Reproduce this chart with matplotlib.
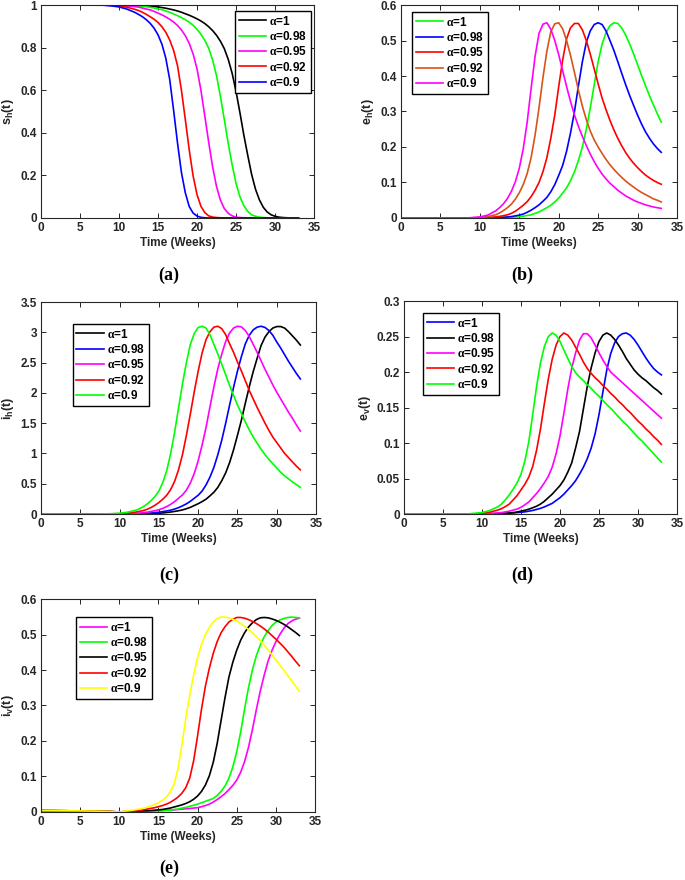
import matplotlib
matplotlib.use("Agg")
import matplotlib.pyplot as plt
from matplotlib.ticker import FuncFormatter

plt.rcParams["font.family"] = ["Liberation Sans", "DejaVu Sans"]
plt.rcParams["font.weight"] = "bold"
plt.rcParams["axes.labelweight"] = "bold"
plt.rcParams["mathtext.fontset"] = "custom"
plt.rcParams["mathtext.rm"] = "Liberation Serif"
plt.rcParams["mathtext.it"] = "Liberation Serif"
plt.rcParams["mathtext.bf"] = "Liberation Sans:bold"

# time grid (weeks)
t = [0, 5, 8, 9, 10, 11,
     12, 12.5, 13, 13.5, 14, 14.5, 15, 15.5, 16, 16.5, 17, 17.5,
     18, 18.5, 19, 19.5, 20, 20.5, 21, 21.5, 22, 22.5, 23, 23.5,
     24, 24.5, 25, 25.5, 26, 26.5, 27, 27.5, 28, 28.5, 29, 29.5,
     30, 30.5, 31, 31.5, 32, 32.5, 33]

alpha_labels = [r"$\alpha$=1", r"$\alpha$=0.98", r"$\alpha$=0.95",
                r"$\alpha$=0.92", r"$\alpha$=0.9"]

# (a) s_h(t)
sh_1 = [1, 1, 1, 1, 1, 1,
        .999, .998, .997, .996, .995, .993, .991, .988, .985, .981, .977, .972,
        .966, .959, .952, .944, .935, .925, .913, .898, .88, .858, .83, .795,
        .745, .68, .595, .495, .39, .295, .205, .135, .085, .05, .028, .015,
        .008, .004, .002, .001, 0, 0, 0]
sh_98 = [1, 1, 1, 1, 1, .999,
         .997, .996, .994, .992, .989, .986, .982, .978, .972, .966, .958, .95,
         .941, .931, .919, .905, .886, .863, .834, .797, .742, .668, .571, .462,
         .35, .25, .163, .10, .058, .031, .015, .008, .004, .002, .001, 0,
         0, 0, 0, 0, 0, 0, 0]
sh_95 = [1, 1, 1, 1, .999, .996,
         .993, .99, .986, .981, .977, .97, .962, .954, .944, .933, .92, .904,
         .883, .856, .82, .77, .70, .60, .478, .355, .24, .148, .084, .044,
         .022, .01, .004, .002, .001, 0, 0, 0, 0, 0, 0, 0,
         0, 0, 0, 0, 0, 0, 0]
sh_92 = [1, 1, 1, .998, .995, .99,
         .98, .974, .966, .956, .945, .933, .918, .898, .872, .836, .787, .715,
         .60, .462, .32, .197, .11, .055, .025, .01, .004, .002, .001, 0,
         0, 0, 0, 0, 0, 0, 0, 0, 0, 0, 0, 0,
         0, 0, 0, 0, 0, 0, 0]
sh_90 = [1, 1, .999, .996, .991, .981,
         .966, .956, .945, .931, .914, .891, .86, .816, .75, .65, .505, .352,
         .214, .118, .054, .023, .009, .003, .001, 0, 0, 0, 0, 0,
         0, 0, 0, 0, 0, 0, 0, 0, 0, 0, 0, 0,
         0, 0, 0, 0, 0, 0, 0]

# (b) e_h(t)
eh_1 = [0, 0, 0, 0, 0, 0,
        0, .0005, .001, .0012, .002, .0027, .0035, .005, .007, .009, .013, .017,
        .023, .029, .036, .045, .056, .07, .085, .105, .13, .162, .2, .25,
        .31, .375, .44, .49, .522, .542, .55, .548, .535, .515, .49, .462,
        .432, .402, .373, .345, .319, .294, .27]
eh_98 = [0, 0, 0, 0, 0, .0005,
         .001, .0013, .002, .003, .004, .006, .008, .011, .016, .022, .029, .037,
         .047, .058, .074, .094, .12, .148, .188, .24, .30, .372, .44, .495,
         .527, .545, .55, .545, .527, .5, .472, .44, .407, .375, .345, .317,
         .29, .265, .243, .225, .209, .196, .185]
eh_95 = [0, 0, 0, 0, .0005, .001,
         .003, .0045, .0065, .009, .013, .019, .027, .036, .046, .06, .078, .1,
         .13, .17, .225, .29, .37, .445, .505, .536, .548, .548, .53, .5,
         .462, .42, .378, .338, .305, .275, .248, .224, .203, .184, .168, .154,
         .142, .131, .121, .113, .106, .1, .095]
eh_92 = [0, 0, 0, .0005, .0015, .004,
         .009, .014, .021, .029, .039, .053, .071, .094, .125, .17, .233, .31,
         .395, .47, .525, .547, .55, .533, .50, .458, .41, .36, .315, .277,
         .245, .22, .2, .182, .165, .15, .137, .125, .114, .104, .095, .087,
         .079, .072, .066, .06, .054, .05, .045]
eh_90 = [0, 0, 0, .001, .003, .008,
         .02, .029, .04, .055, .075, .102, .14, .195, .27, .365, .455, .52,
         .546, .55, .532, .5, .46, .415, .37, .328, .29, .258, .23, .204,
         .18, .159, .14, .124, .11, .098, .088, .078, .07, .062, .056, .05,
         .045, .041, .037, .034, .031, .029, .027]

# (c) i_h(t)
ih_1 = [0, 0, 0, 0, 0, .001,
        .002, .003, .004, .005, .007, .01, .013, .018, .025, .033, .043, .054,
        .068, .087, .11, .14, .17, .205, .245, .3, .36, .44, .55, .68,
        .85, 1.06, 1.3, 1.55, 1.83, 2.1, 2.35, 2.57, 2.78, 2.92, 3.01, 3.07,
        3.095, 3.095, 3.07, 3.01, 2.94, 2.87, 2.79]
ih_98 = [0, 0, 0, 0, .001, .002,
         .004, .006, .008, .011, .016, .023, .03, .04, .051, .063, .082, .105,
         .135, .168, .21, .26, .31, .38, .48, .61, .77, .98, 1.22, 1.5,
         1.8, 2.09, 2.36, 2.6, 2.81, 2.95, 3.04, 3.085, 3.1, 3.08, 3.03, 2.95,
         2.84, 2.74, 2.63, 2.52, 2.42, 2.32, 2.23]
ih_95 = [0, 0, 0, .001, .002, .005,
         .01, .014, .022, .03, .042, .055, .071, .094, .123, .16, .205, .26,
         .315, .395, .51, .67, .88, 1.14, 1.43, 1.77, 2.1, 2.4, 2.64, 2.85,
         2.99, 3.07, 3.1, 3.09, 3.03, 2.93, 2.8, 2.67, 2.53, 2.39, 2.26, 2.13,
         2.01, 1.9, 1.79, 1.68, 1.58, 1.47, 1.37]
ih_92 = [0, 0, .001, .003, .006, .013,
         .03, .043, .056, .078, .107, .144, .19, .245, .31, .405, .54, .73,
         .98, 1.3, 1.65, 2.02, 2.36, 2.66, 2.88, 3.01, 3.085, 3.1, 3.06, 2.96,
         2.81, 2.67, 2.51, 2.36, 2.2, 2.04, 1.9, 1.76, 1.63, 1.5, 1.38, 1.27,
         1.18, 1.09, 1.0, .93, .86, .79, .73]
ih_90 = [0, 0, .002, .005, .012, .03,
         .06, .085, .12, .165, .22, .29, .38, .52, .72, 1.0, 1.35, 1.75,
         2.15, 2.5, 2.8, 2.98, 3.08, 3.1, 3.07, 2.96, 2.8, 2.64, 2.47, 2.3,
         2.12, 1.96, 1.8, 1.66, 1.52, 1.39, 1.27, 1.17, 1.07, .98, .9, .83,
         .76, .69, .63, .58, .53, .485, .44]

# (d) e_v(t)
ev_1 = [0, 0, 0, 0, 0, 0,
        0, .0005, .001, .0012, .0015, .002, .0025, .003, .004, .005, .0065, .008,
        .01, .0125, .015, .019, .023, .028, .034, .04, .047, .056, .066, .078,
        .093, .113, .14, .172, .203, .226, .241, .25, .254, .255, .252, .246,
        .238, .229, .22, .212, .205, .2, .196]
ev_98 = [0, 0, 0, 0, 0, 0,
         .0005, .0008, .001, .0015, .002, .0028, .004, .0053, .0068, .0088, .011, .014,
         .018, .023, .028, .034, .04, .048, .059, .072, .093, .116, .148, .18,
         .206, .227, .243, .252, .255, .252, .246, .238, .229, .219, .211, .203,
         .197, .192, .188, .183, .178, .174, .169]
ev_95 = [0, 0, 0, 0, .0005, .001,
         .0015, .002, .003, .004, .0055, .007, .0095, .013, .017, .023, .029, .036,
         .044, .053, .066, .085, .11, .142, .176, .205, .227, .245, .254, .254,
         .248, .238, .227, .217, .208, .2, .195, .19, .185, .18, .175, .17,
         .165, .16, .155, .15, .145, .14, .135]
ev_92 = [0, 0, 0, 0, .0013, .0025,
         .0055, .0075, .0105, .014, .02, .026, .034, .042, .052, .067, .09, .12,
         .156, .19, .218, .238, .25, .255, .252, .245, .235, .225, .214, .205,
         .198, .192, .187, .181, .176, .17, .165, .159, .154, .148, .143, .137,
         .131, .126, .12, .115, .109, .104, .098]
ev_90 = [0, 0, 0, .001, .002, .005,
         .01, .014, .02, .027, .035, .044, .056, .075, .102, .14, .18, .213,
         .236, .25, .255, .252, .243, .231, .219, .208, .199, .193, .188, .182,
         .177, .171, .166, .16, .154, .149, .143, .137, .131, .126, .12, .114,
         .108, .103, .097, .091, .085, .079, .073]

# (e) i_v(t)
iv_1 = [.004, .003, .002, .001, 0, 0,
        .001, .001, .002, .002, .003, .003, .004, .004, .005, .005, .006, .007,
        .008, .009, .01, .011, .012, .015, .018, .022, .028, .035, .043, .052,
        .063, .075, .09, .112, .142, .182, .232, .288, .34, .385, .425, .455,
        .48, .5, .517, .53, .538, .543, .546]
iv_98 = [.004, .003, .002, .001, 0, 0,
         .001, .001, .002, .002, .003, .003, .004, .004, .005, .005, .007, .008,
         .011, .013, .016, .019, .022, .026, .03, .034, .038, .047, .058, .073,
         .095, .127, .17, .225, .29, .35, .40, .44, .47, .493, .511, .525,
         .535, .541, .545, .548, .549, .548, .547]
iv_95 = [.004, .003, .002, .001, 0, .001,
         .002, .0025, .003, .0035, .004, .005, .006, .007, .009, .011, .014, .017,
         .02, .024, .029, .036, .045, .058, .076, .102, .14, .193, .258, .322,
         .38, .422, .456, .484, .505, .521, .533, .542, .547, .548, .547, .544,
         .54, .535, .529, .522, .514, .506, .497]
iv_92 = [.004, .003, .002, .001, 0, .002,
         .003, .004, .006, .008, .01, .012, .015, .018, .022, .027, .034, .042,
         .053, .069, .096, .145, .215, .29, .355, .405, .447, .48, .505, .522,
         .535, .543, .548, .548, .546, .542, .537, .531, .524, .516, .507, .497,
         .487, .476, .465, .452, .439, .425, .412]
iv_90 = [.004, .003, .002, .001, 0, .003,
         .006, .008, .01, .013, .017, .021, .026, .033, .042, .056, .079, .122,
         .19, .265, .33, .387, .435, .473, .5, .52, .535, .545, .549, .549,
         .547, .543, .538, .531, .523, .514, .505, .494, .483, .47, .457, .443,
         .428, .414, .4, .385, .37, .355, .34]

panels = [
    dict(series=[sh_1, sh_98, sh_95, sh_92, sh_90],
         colors=["#000000", "#00ff00", "#ff00ff", "#ff0000", "#0000ff"],
         ylabel=r"$\mathbf{s_h(t)}$", ymax=1.0, ystep=0.2,
         rect=[0.0599, 0.7523, 0.3985, 0.2420], leg=(0.989, 0.972), loc="upper right",
         tag="(a)", tagpos=(0.247, 0.687)),
    dict(series=[eh_1, eh_98, eh_95, eh_92, eh_90],
         colors=["#00ff00", "#0000ff", "#ff0000", "#d95319", "#ff00ff"],
         ylabel=r"$\mathbf{e_h(t)}$", ymax=0.6, ystep=0.1,
         rect=[0.5854, 0.7523, 0.4029, 0.2420], leg=(0.04, 0.967), loc="upper left",
         tag="(b)", tagpos=(0.762, 0.687)),
    dict(series=[ih_1, ih_98, ih_95, ih_92, ih_90],
         colors=["#000000", "#0000ff", "#ff00ff", "#ff0000", "#00ff00"],
         ylabel=r"$\mathbf{i_h(t)}$", ymax=3.5, ystep=0.5,
         rect=[0.0599, 0.4159, 0.4015, 0.2409], leg=(0.116, 0.896), loc="upper left",
         tag="(c)", tagpos=(0.247, 0.346)),
    dict(series=[ev_1, ev_98, ev_95, ev_92, ev_90],
         colors=["#0000ff", "#000000", "#ff00ff", "#ff0000", "#00ff00"],
         ylabel=r"$\mathbf{e_v(t)}$", ymax=0.3, ystep=0.05,
         rect=[0.5898, 0.4159, 0.3985, 0.2420], leg=(0.07, 0.944), loc="upper left",
         tag="(d)", tagpos=(0.762, 0.346)),
    dict(series=[iv_1, iv_98, iv_95, iv_92, iv_90],
         colors=["#ff00ff", "#00ff00", "#000000", "#ff0000", "#ffff00"],
         ylabel=r"$\mathbf{i_v(t)}$", ymax=0.6, ystep=0.1,
         rect=[0.0599, 0.0773, 0.4000, 0.2420], leg=(0.128, 0.915), loc="upper left",
         tag="(e)", tagpos=(0.247, 0.013)),
]

fig = plt.figure(figsize=(6.85, 8.8), dpi=100)
fmt = FuncFormatter(lambda v, p: "%g" % round(v, 4))
edge = "#262626"

for p in panels:
    ax = fig.add_axes(p["rect"])
    for ys, c, lab in zip(p["series"], p["colors"], alpha_labels):
        ax.plot(t, ys, color=c, lw=1.2, label=lab)
    ax.set_xlim(0, 35)
    ax.set_ylim(0, p["ymax"])
    ax.set_xticks(range(0, 36, 5))
    n = int(round(p["ymax"] / p["ystep"]))
    ax.set_yticks([i * p["ystep"] for i in range(n + 1)])
    ax.yaxis.set_major_formatter(fmt)
    ax.tick_params(direction="in", top=True, right=True, length=3.5, width=0.7,
                   labelsize=8.5, colors=edge, labelcolor=edge, pad=3)
    for s in ax.spines.values():
        s.set_color(edge)
        s.set_linewidth(0.8)
    ax.set_xlabel("Time (Weeks)", fontsize=8.5, color=edge, labelpad=2)
    ax.set_ylabel(p["ylabel"], fontsize=9, color=edge, labelpad=3)
    leg = ax.legend(loc=p["loc"], bbox_to_anchor=p["leg"], borderaxespad=0,
                    fontsize=8.5, fancybox=False, framealpha=1, edgecolor="#000000",
                    handlelength=2.3, handletextpad=0.3, labelspacing=0.2,
                    borderpad=0.3)
    leg.get_frame().set_linewidth(1.0)
    fig.text(p["tagpos"][0], p["tagpos"][1], p["tag"], family="Liberation Serif",
             weight="bold", fontsize=13, ha="center", va="center")

fig.savefig("out.png", dpi=100)
